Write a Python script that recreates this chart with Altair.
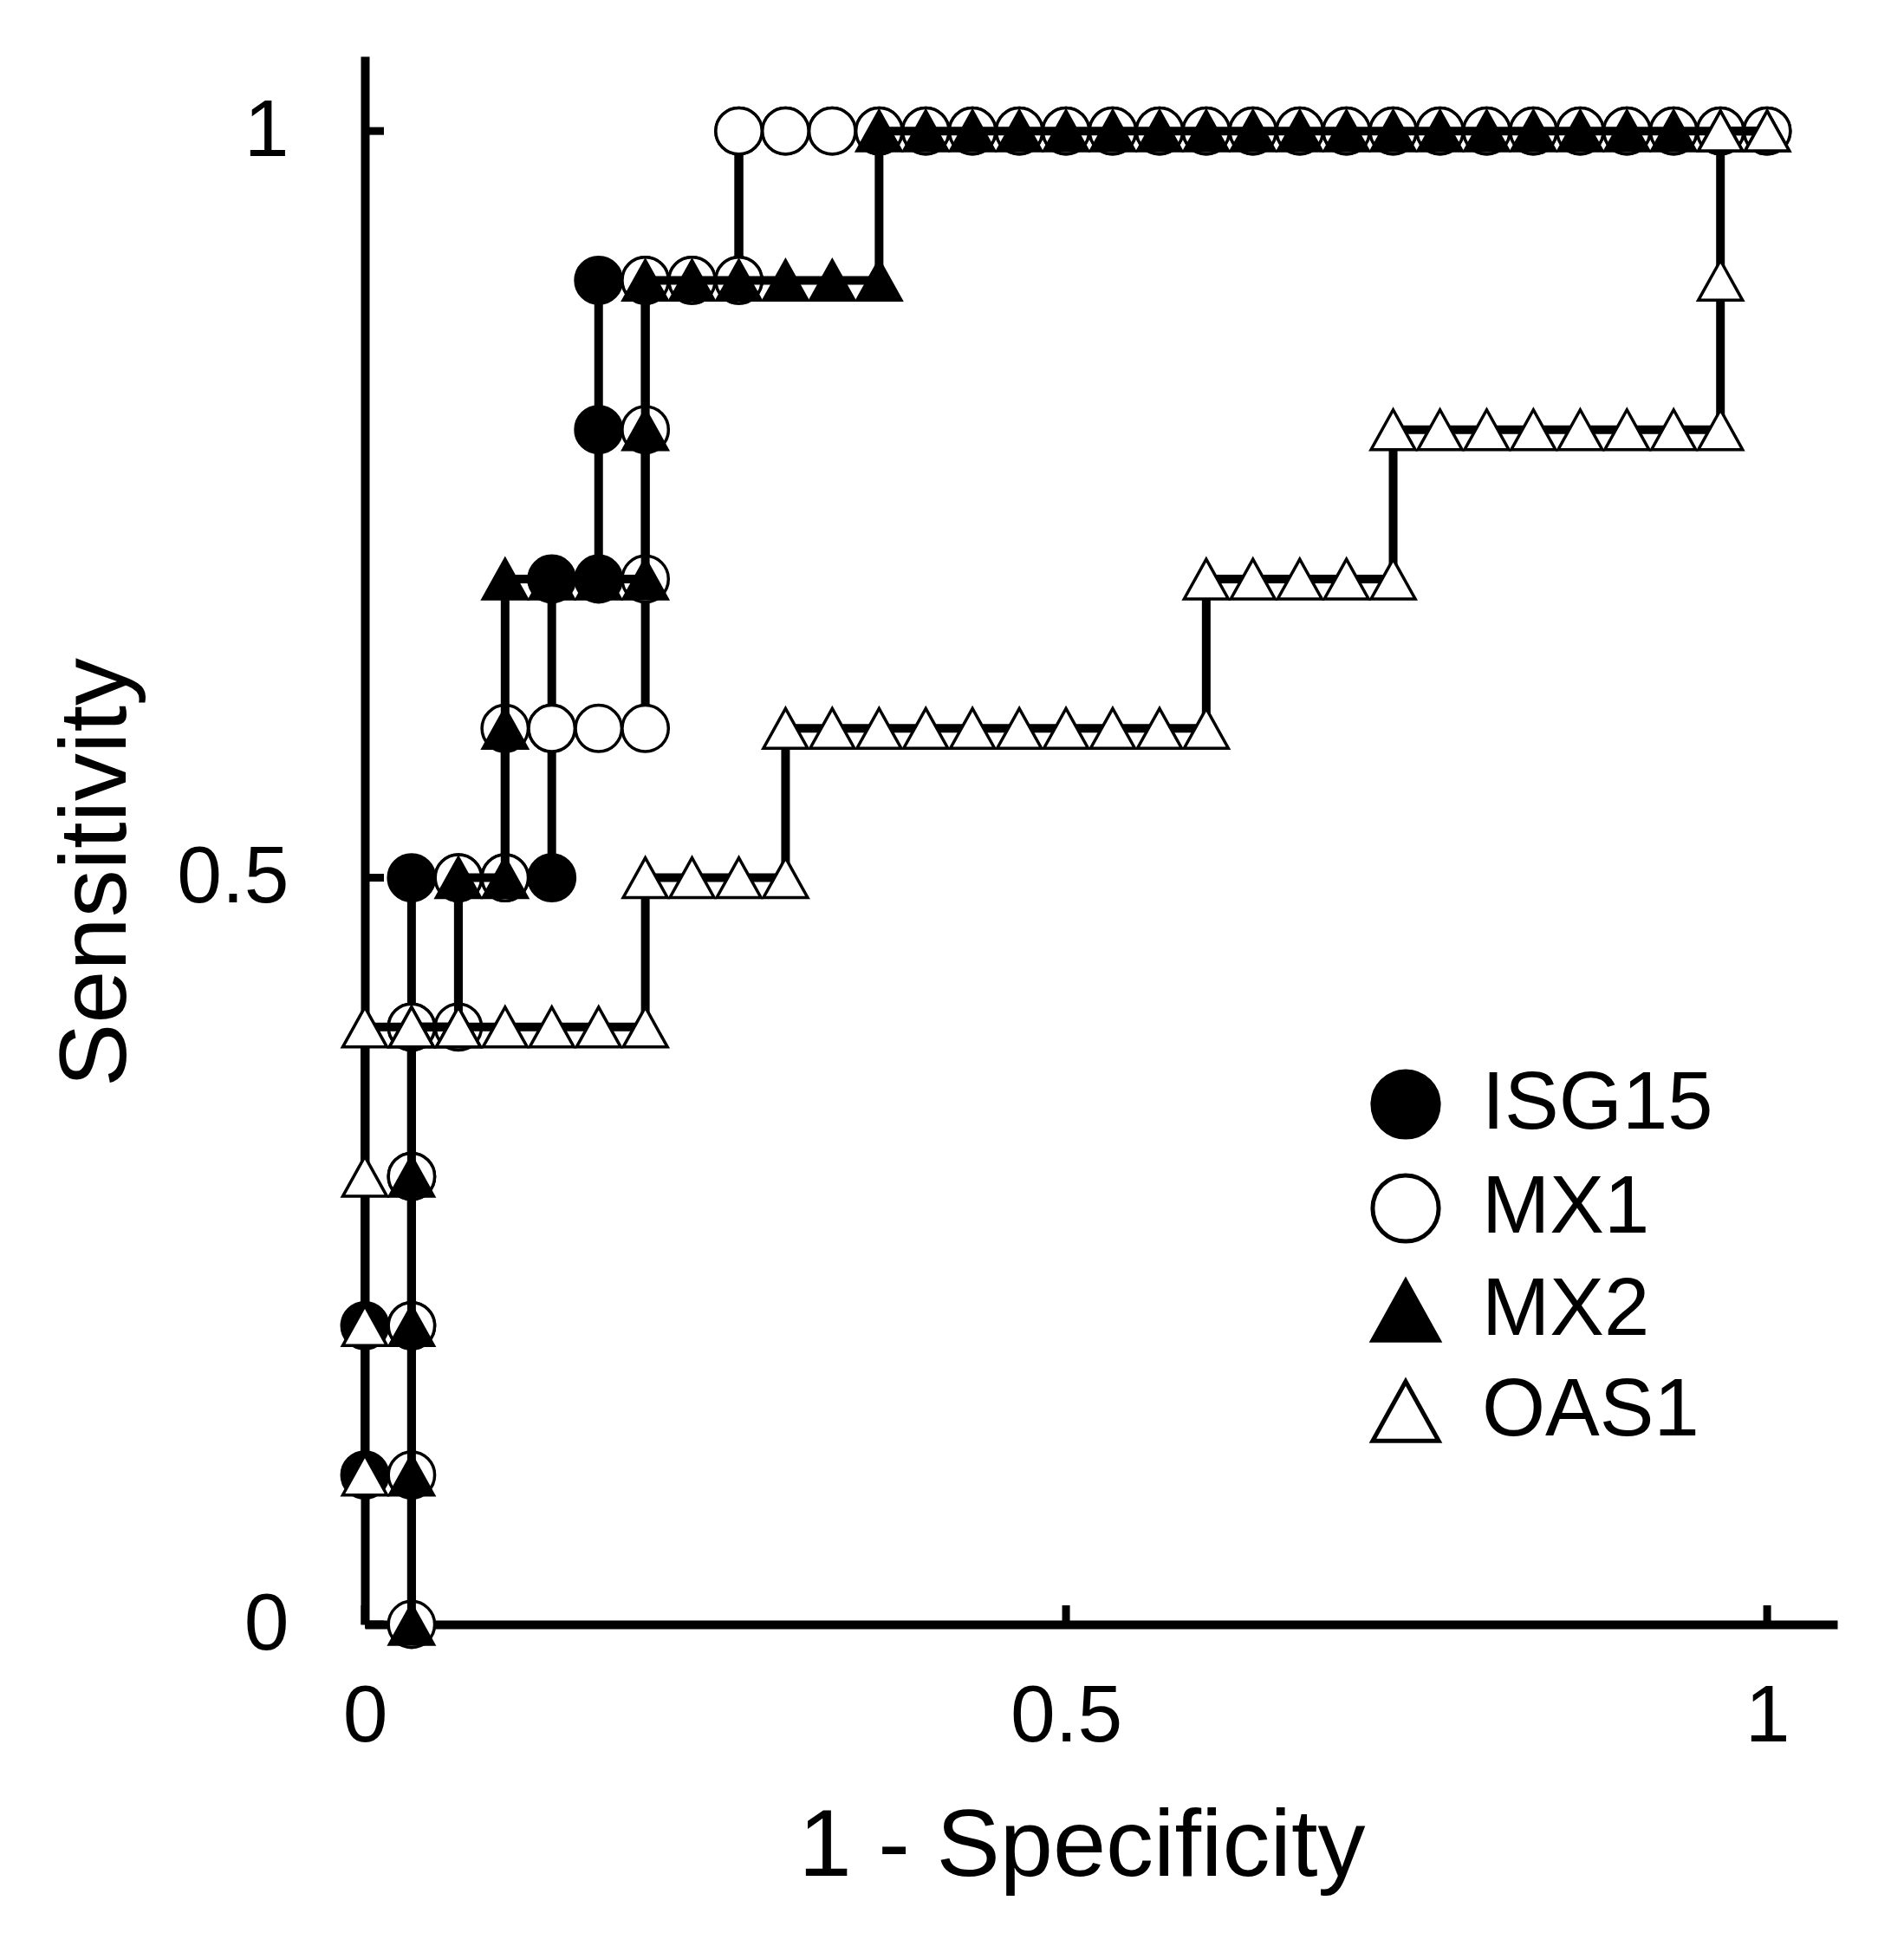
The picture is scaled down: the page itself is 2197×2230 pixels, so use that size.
import altair as alt
import pandas as pd

series_names = ["ISG15", "MX1", "MX2", "OAS1"]
tick_values = [0, 0.5, 1]

isg15_x = [0, 0, 0.0333, 0.0333, 0.0333, 0.0333, 0.0667, 0.1, 0.1333, 0.1333,
           0.1333, 0.1667, 0.1667, 0.1667, 0.2, 0.2333, 0.2667, 0.2667, 0.3, 0.3333,
           0.3667, 0.4, 0.4333, 0.4667, 0.5, 0.5333, 0.5667, 0.6, 0.6333, 0.6667,
           0.7, 0.7333, 0.7667, 0.8, 0.8333, 0.8667, 0.9, 0.9333, 0.9667, 1.0]
isg15_y = [0.1, 0.2, 0.2, 0.3, 0.4, 0.5, 0.5, 0.5, 0.5, 0.6,
           0.7, 0.7, 0.8, 0.9, 0.9, 0.9, 0.9, 1.0, 1.0, 1.0,
           1.0, 1.0, 1.0, 1.0, 1.0, 1.0, 1.0, 1.0, 1.0, 1.0,
           1.0, 1.0, 1.0, 1.0, 1.0, 1.0, 1.0, 1.0, 1.0, 1.0]

mx1_x = [0.0333, 0.0333, 0.0333, 0.0333, 0.0333, 0.0667, 0.0667, 0.1, 0.1, 0.1333,
         0.1667, 0.2, 0.2, 0.2, 0.2, 0.2333, 0.2667, 0.2667, 0.3, 0.3333,
         0.3667, 0.4, 0.4333, 0.4667, 0.5, 0.5333, 0.5667, 0.6, 0.6333, 0.6667,
         0.7, 0.7333, 0.7667, 0.8, 0.8333, 0.8667, 0.9, 0.9333, 0.9667, 1.0]
mx1_y = [0, 0.1, 0.2, 0.3, 0.4, 0.4, 0.5, 0.5, 0.6, 0.6,
         0.6, 0.6, 0.7, 0.8, 0.9, 0.9, 0.9, 1.0, 1.0, 1.0,
         1.0, 1.0, 1.0, 1.0, 1.0, 1.0, 1.0, 1.0, 1.0, 1.0,
         1.0, 1.0, 1.0, 1.0, 1.0, 1.0, 1.0, 1.0, 1.0, 1.0]

mx2_x = [0.0333, 0.0333, 0.0333, 0.0333, 0.0333, 0.0667, 0.0667, 0.1, 0.1, 0.1,
         0.1333, 0.1667, 0.2, 0.2, 0.2, 0.2333, 0.2667, 0.3, 0.3333, 0.3667,
         0.3667, 0.4, 0.4333, 0.4667, 0.5, 0.5333, 0.5667, 0.6, 0.6333, 0.6667,
         0.7, 0.7333, 0.7667, 0.8, 0.8333, 0.8667, 0.9, 0.9333, 0.9667, 1.0]
mx2_y = [0, 0.1, 0.2, 0.3, 0.4, 0.4, 0.5, 0.5, 0.6, 0.7,
         0.7, 0.7, 0.7, 0.8, 0.9, 0.9, 0.9, 0.9, 0.9, 0.9,
         1.0, 1.0, 1.0, 1.0, 1.0, 1.0, 1.0, 1.0, 1.0, 1.0,
         1.0, 1.0, 1.0, 1.0, 1.0, 1.0, 1.0, 1.0, 1.0, 1.0]

oas1_x = [0, 0, 0, 0, 0.0333, 0.0667, 0.1, 0.1333, 0.1667, 0.2,
          0.2, 0.2333, 0.2667, 0.3, 0.3, 0.3333, 0.3667, 0.4, 0.4333, 0.4667,
          0.5, 0.5333, 0.5667, 0.6, 0.6, 0.6333, 0.6667, 0.7, 0.7333, 0.7333,
          0.7667, 0.8, 0.8333, 0.8667, 0.9, 0.9333, 0.9667, 0.9667, 0.9667, 1.0]
oas1_y = [0.1, 0.2, 0.3, 0.4, 0.4, 0.4, 0.4, 0.4, 0.4, 0.4,
          0.5, 0.5, 0.5, 0.5, 0.6, 0.6, 0.6, 0.6, 0.6, 0.6,
          0.6, 0.6, 0.6, 0.6, 0.7, 0.7, 0.7, 0.7, 0.7, 0.8,
          0.8, 0.8, 0.8, 0.8, 0.8, 0.8, 0.8, 0.9, 1.0, 1.0]

series_data = {
    "ISG15": (isg15_x, isg15_y),
    "MX1": (mx1_x, mx1_y),
    "MX2": (mx2_x, mx2_y),
    "OAS1": (oas1_x, oas1_y),
}

rows = []
for name in series_names:
    xs, ys = series_data[name]
    for i, (xv, yv) in enumerate(zip(xs, ys)):
        rows.append({"series": name, "idx": i, "fpr": xv, "tpr": yv})
df = pd.DataFrame(rows)

FONT = "Liberation Sans"
TRI = "M0,-0.9L1,0.9L-1,0.9Z"

x_scale = alt.Scale(domain=[0, 1.05], nice=False, zero=False)
y_scale = alt.Scale(domain=[0, 1.05], nice=False, zero=False)

x_axis = alt.Axis(values=tick_values, format="~g", title="1 - Specificity",
                  ticks=False, grid=False, labelPadding=61, labelFontSize=93,
                  titleFontSize=110, titleX=827, titleY=289, titleBaseline="alphabetic",
                  domainWidth=10, domainColor="black", labelFlush=False,
                  labelOverlap=False, titleFontWeight="normal", labelFont=FONT,
                  titleFont=FONT, labelColor="black", titleColor="black")
y_axis = alt.Axis(values=tick_values, format="~g", title="Sensitivity",
                  ticks=False, grid=False, labelPadding=88, labelFontSize=93,
                  titleFontSize=110, titleX=-310, titleY=941, titleBaseline="middle",
                  titleAngle=-90, domainWidth=10, domainColor="black", labelFlush=False,
                  labelOverlap=False, titleFontWeight="normal", labelFont=FONT,
                  titleFont=FONT, labelColor="black", titleColor="black",
                  labelBaseline="middle")

xenc = alt.X("fpr:Q", scale=x_scale, axis=x_axis)
yenc = alt.Y("tpr:Q", scale=y_scale, axis=y_axis)

shape_scale = alt.Scale(domain=series_names, range=["circle", "circle", TRI, TRI])
fill_scale = alt.Scale(domain=series_names, range=["#000000", "#ffffff", "#000000", "#ffffff"])
stroke_scale = alt.Scale(domain=series_names, range=["#000000", "#000000", "#000000", "#000000"])

legend = alt.Legend(title=None, orient="none", legendX=1154, legendY=1162,
                    labelFontSize=94, labelFont=FONT, labelColor="black",
                    labelLimit=0, symbolSize=5800, symbolStrokeWidth=5,
                    symbolStrokeColor="black", rowPadding=22, labelOffset=41,
                    padding=0, symbolOpacity=1)

sizes = {"ISG15": 2850, "MX1": 2850, "MX2": 2600, "OAS1": 2600}

layers = []
for name in series_names:
    base = alt.Chart(df).transform_filter(alt.datum.series == name)
    line = base.mark_line(color="black", strokeWidth=10, strokeJoin="miter").encode(
        x=xenc, y=yenc, order=alt.Order("idx:Q"))
    pts = base.mark_point(filled=True, opacity=1, size=sizes[name],
                          strokeWidth=3.5).encode(
        x=xenc, y=yenc,
        shape=alt.Shape("series:N", scale=shape_scale, legend=legend),
        fill=alt.Fill("series:N", scale=fill_scale, legend=legend),
        stroke=alt.Stroke("series:N", scale=stroke_scale, legend=legend))
    layers += [line, pts]

xt_df = pd.DataFrame({"fpr": tick_values})
yt_df = pd.DataFrame({"tpr": tick_values})
xticks = alt.Chart(xt_df).mark_rule(color="black", strokeWidth=9).encode(
    x=xenc, y=alt.datum(0, scale=y_scale), y2=alt.datum(0.0128))
yticks = alt.Chart(yt_df).mark_rule(color="black", strokeWidth=9).encode(
    y=yenc, x=alt.datum(0, scale=x_scale), x2=alt.datum(0.0136))

chart = alt.layer(xticks, yticks, *layers).properties(
    width=1699, height=1809,
    autosize=alt.AutoSizeParams(type="none"),
    padding={"left": 413, "top": 57, "right": 60, "bottom": 330},
    background="white",
    view=alt.ViewBackground(stroke=None, strokeWidth=0, strokeOpacity=0),
).configure_view(stroke=None, strokeWidth=0, strokeOpacity=0).configure(font=FONT)

chart.save("out.html", embed_options={"renderer": "svg", "actions": False})
